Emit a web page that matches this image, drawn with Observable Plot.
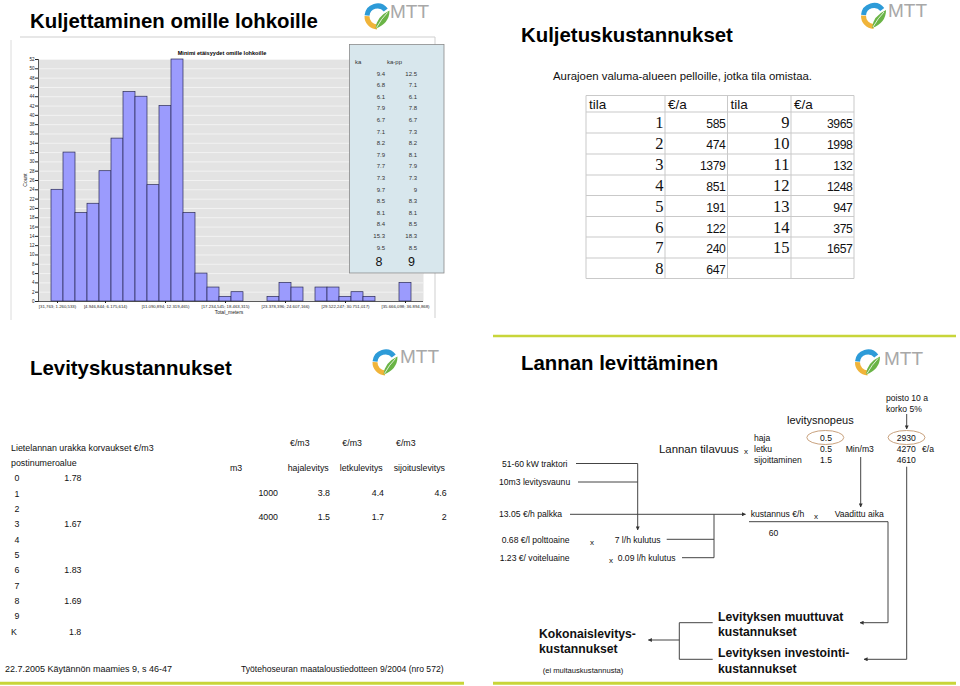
<!DOCTYPE html>
<html><head><meta charset="utf-8">
<script src="https://cdn.jsdelivr.net/npm/d3@7"></script>
<script src="https://cdn.jsdelivr.net/npm/@observablehq/plot@0.6"></script>
<style>
html,body{margin:0;padding:0;background:#fff;}
#page{position:relative;width:960px;height:686px;overflow:hidden;background:#fff;font-family:"Liberation Sans",Arial,sans-serif;}
#chart{position:absolute;left:0;top:40px;width:435px;height:281px;overflow:hidden;}
#overlay{position:absolute;left:0;top:0;}
</style></head>
<body><div id="page"><div id="chart"></div><svg id="overlay" width="960" height="686"></svg></div>
<script>
// ---------- data ----------
const binIndex = d3.range(1, 31);
const counts = [24,32,19,21,28,35,45,44,25,42,52,19,6,3,1,2,0,0,1,4,3,0,3,3,1,2,1,0,0,4];
const tickBins = [1,5,10,15,20,25,30];
const tickLabels = ["[31,763; 1.260,533)","[4.946,844; 6.175,614)","[11.090,894; 12.319,465)","[17.234,545; 18.463,315)","[23.378,396; 24.607,166)","[29.522,247; 30.751,017)","[35.666,098; 36.894,868)"];
const yTicks = d3.range(0, 53, 2);
const ka   = ["9.4","6.8","6.1","7.9","6.7","7.1","8.2","7.9","7.7","7.3","9.7","8.5","8.1","8.4","15.3","9.5"];
const kaPP = ["12.5","7.1","6.1","7.8","6.7","7.3","8.2","8.1","7.9","7.3","9","8.3","8.1","8.5","18.3","8.5"];
const kaSummary = ["8","9"];

const tilaLeft = [1,2,3,4,5,6,7,8];
const eurLeft = [585,474,1379,851,191,122,240,647];
const tilaRight = [9,10,11,12,13,14,15];
const eurRight = [3965,1998,132,1248,947,375,1657];

const postAreas = ["0","1","2","3","4","5","6","7","8","9","K"];
const postValues = ["1.78","","","1.67","","","1.83","","1.69","","1.8"];
const spreadMethods = ["hajalevitys","letkulevitys","sijoituslevitys"];
const volumes = ["1000","4000"];
const spreadCosts = [["3.8","4.4","4.6"],["1.5","1.7","2"]];

// ---------- histogram ----------
const data = binIndex.map((b, i) => ({bin: b, count: counts[i]}));
const labelOf = new Map(tickBins.map((b, i) => [b, tickLabels[i]]));
const chart = Plot.plot({
  width: 435, height: 281,
  marginLeft: 38, marginRight: 12, marginTop: 19, marginBottom: 20,
  style: {fontFamily: "Liberation Sans, Arial, sans-serif", background: "transparent", color: "#222"},
  x: {type: "band", domain: binIndex, padding: 0},
  y: {domain: [0, 52]},
  marks: [
    Plot.frame({fill: "#e3e3e3", stroke: null}),
    Plot.gridY(yTicks, {stroke: "#f6f6f6", strokeOpacity: 1, strokeWidth: 0.8}),
    Plot.barY(data, {x: "bin", y: "count", fill: "#9b9bfd", stroke: "#2a2a55", strokeWidth: 0.7}),
    Plot.ruleY([0], {stroke: "#333", strokeWidth: 0.8}),
    Plot.frame({anchor: "left", stroke: "#333", strokeWidth: 0.8}),
    Plot.axisY({ticks: yTicks, tickSize: 3, tickPadding: 1, fontSize: 4.6, label: null}),
    Plot.axisX({ticks: tickBins, tickFormat: d => labelOf.get(d), tickSize: 2, tickPadding: 1, fontSize: 4.3, label: null})
  ]
});
document.getElementById("chart").appendChild(chart);

// ---------- overlay ----------
const ns = "http://www.w3.org/2000/svg";
const ov = document.getElementById("overlay");
function el(tag, attrs, parent = ov) {
  const e = document.createElementNS(ns, tag);
  for (const k in attrs) e.setAttribute(k, attrs[k]);
  parent.appendChild(e);
  return e;
}
function T(x, y, s, o = {}) {
  const e = el("text", {x, y, "font-size": o.fs || 9, "font-family": o.ff || "Liberation Sans, Arial, sans-serif",
    "font-weight": o.fw || "normal", "text-anchor": o.a || "start", fill: o.fill || "#111"});
  if (o.ls) e.setAttribute("letter-spacing", o.ls);
  e.textContent = s;
  return e;
}
function L(d, o = {}) {
  const e = el("path", {d, fill: "none", stroke: o.stroke || "#444", "stroke-width": o.sw || 1});
  if (o.arrow) e.setAttribute("marker-end", "url(#arr)");
  return e;
}
const defs = el("defs", {});
const mk = el("marker", {id: "arr", viewBox: "0 0 10 10", refX: 9, refY: 5, markerWidth: 4, markerHeight: 4, orient: "auto-start-reverse", markerUnits: "userSpaceOnUse"}, defs);
el("path", {d: "M0,0L10,5L0,10z", fill: "#333"}, mk);

function arcPath(r, a0, a1) {
  const p = a => [r * Math.cos(a * Math.PI / 180), r * Math.sin(a * Math.PI / 180)];
  const [x0, y0] = p(a0), [x1, y1] = p(a1);
  const large = (a1 - a0) > 180 ? 1 : 0;
  return `M${x0},${y0}A${r},${r} 0 ${large} 1 ${x1},${y1}`;
}
function logo(cx, cy, tx, ty) {
  const g = el("g", {transform: `translate(${cx},${cy})`});
  el("path", {d: arcPath(10.5, 185, 322), fill: "none", stroke: "#2d9bd8", "stroke-width": 5}, g);
  el("path", {d: arcPath(10.5, 92, 182), fill: "none", stroke: "#f0b43a", "stroke-width": 5}, g);
  el("path", {d: "M-2,12 Q-1,0 12,-6 Q12,7 -2,12 Z", fill: "#6ab446"}, g);
  el("path", {d: "M-1,11 Q4,2 10,-4", fill: "none", stroke: "#fff", "stroke-width": 0.8}, g);
  T(tx, ty, "MTT", {fs: 19, fill: "#a8a8a8"});
}

// ===== Slide 1 : top-left =====
T(30, 28, "Kuljettaminen omille lohkoille", {fs: 20.4, fw: "bold", fill: "#000"});
logo(377.5, 16.5, 390, 17.5);
L("M20,37H435V318", {stroke: "#cfcfcf"});
L("M11,40V320", {stroke: "#dcdcdc"});
T(222, 55, "Minimi etäisyydet omille lohkoille", {fs: 5.6, fw: "bold", a: "middle", fill: "#000"});
const cg = el("g", {transform: "translate(27,180) rotate(-90)"});
const ct = el("text", {x: 0, y: 0, "font-size": 5, "text-anchor": "middle", "font-family": "Liberation Sans, Arial", fill: "#222"}, cg);
ct.textContent = "Count";
T(229, 314, "Total_meters", {fs: 5, a: "middle", fill: "#222"});
// ka / ka-pp box
el("rect", {x: 349.5, y: 44.5, width: 94.5, height: 228.5, fill: "#d8e7ed", stroke: "#8a8a8a", "stroke-width": 0.8});
T(355, 64, "ka", {fs: 6, fill: "#333"});
T(387, 64, "ka-pp", {fs: 6, fill: "#333"});
ka.forEach((v, i) => {
  T(385, 75.5 + i * 11.6, v, {fs: 6, a: "end", fill: "#333"});
  T(417, 75.5 + i * 11.6, kaPP[i], {fs: 6, a: "end", fill: "#333"});
});
T(379, 266, kaSummary[0], {fs: 12.5, a: "middle", fill: "#111"});
T(411.5, 266, kaSummary[1], {fs: 12.5, a: "middle", fill: "#111"});

// ===== Slide 2 : top-right =====
T(521, 42, "Kuljetuskustannukset", {fs: 20.4, fw: "bold", fill: "#000"});
logo(874, 16, 888, 16.5);
T(553, 80, "Aurajoen valuma-alueen pelloille, jotka tila omistaa.", {fs: 11.4, fill: "#111"});
const colX = [586, 665, 727.5, 791, 854];
const rowY = [95.5, 112, 133, 154, 175, 195.5, 216.5, 237, 258, 278.5];
colX.forEach(x => L(`M${x},${rowY[0]}V${rowY[rowY.length - 1]}`, {stroke: "#c9c9c9"}));
rowY.forEach(y => L(`M${colX[0]},${y}H${colX[4]}`, {stroke: "#c9c9c9"}));
["tila", "€/a", "tila", "€/a"].forEach((h, j) => T(colX[j] + 3, 109, h, {fs: 13.5, fill: "#111"}));
tilaLeft.forEach((t, i) => {
  const y = rowY[i + 1] + 16.3;
  T(663.5, y, String(t), {fs: 16.5, ff: "Liberation Serif, Times New Roman, serif", a: "end", fill: "#111"});
  T(725.5, y, String(eurLeft[i]), {fs: 12.2, a: "end", ls: -0.4, fill: "#111"});
});
tilaRight.forEach((t, i) => {
  const y = rowY[i + 1] + 16.3;
  T(789.5, y, String(t), {fs: 16.5, ff: "Liberation Serif, Times New Roman, serif", a: "end", fill: "#111"});
  T(852.5, y, String(eurRight[i]), {fs: 12.2, a: "end", ls: -0.4, fill: "#111"});
});
L("M493,336H956", {stroke: "#c8d53a", sw: 2.5});

// ===== Slide 3 : bottom-left =====
T(30, 375, "Levityskustannukset", {fs: 20.4, fw: "bold", fill: "#000"});
logo(385.5, 362.5, 400, 362.5);
T(11, 450.7, "Lietelannan urakka korvaukset €/m3", {fs: 8.9});
T(11, 466.3, "postinumeroalue", {fs: 8.9});
postAreas.forEach((p, i) => {
  const y = 481.3 + i * 15.34;
  if (p === "K") T(11, y, p, {fs: 8.8}); else T(17, y, p, {fs: 8.8, a: "middle"});
  if (postValues[i]) T(p === "K" ? 69 : 64.3, y, postValues[i], {fs: 8.8});
});
[290, 342.3, 396].forEach(x => T(x, 445.7, "€/m3", {fs: 8.8}));
T(230, 470.7, "m3", {fs: 8.8});
[287.7, 339.7, 393.7].forEach((x, j) => T(x, 470.7, spreadMethods[j], {fs: 8.8}));
volumes.forEach((v, i) => {
  const y = 495.7 + i * 24.6;
  T(278, y, v, {fs: 8.8, a: "end"});
  [330, 384, 446.7].forEach((x, j) => T(x, y, spreadCosts[i][j], {fs: 8.8, a: "end"}));
});
T(5, 672, "22.7.2005 Käytännön maamies 9, s 46-47", {fs: 9});
T(241, 672, "Työtehoseuran maataloustiedotteen 9/2004 (nro 572)", {fs: 8.6});
L("M0,683.3H464", {stroke: "#c8d53a", sw: 3});

// ===== Slide 4 : bottom-right =====
T(521, 370, "Lannan levittäminen", {fs: 20.4, fw: "bold", fill: "#000"});
logo(868, 362.5, 884, 364.5);
const s4 = 8.6;
T(886, 401, "poisto 10 a", {fs: s4});
T(886, 412, "korko 5%", {fs: s4});
T(787, 424, "levitysnopeus", {fs: 11});
T(659, 453, "Lannan tilavuus", {fs: 11.4});
T(744, 453.5, "x", {fs: 8});
T(754, 441, "haja", {fs: s4});
T(754, 452, "letku", {fs: s4});
T(754, 462.5, "sijoittaminen", {fs: s4});
T(820, 441, "0.5", {fs: s4});
T(820, 452, "0.5", {fs: s4});
T(820, 462.5, "1.5", {fs: s4});
T(845.7, 452, "Min/m3", {fs: s4});
T(896.7, 441, "2930", {fs: s4});
T(896.7, 452, "4270", {fs: s4});
T(922, 452, "€/a", {fs: s4});
T(896.7, 462.5, "4610", {fs: s4});
el("ellipse", {cx: 825.3, cy: 437.5, rx: 18.5, ry: 7, fill: "none", stroke: "#c9a27e", "stroke-width": 1});
el("ellipse", {cx: 906.5, cy: 437.5, rx: 18.5, ry: 7, fill: "none", stroke: "#c9a27e", "stroke-width": 1});
L("M906.7,414V429", {arrow: true});
T(502, 467, "51-60 kW traktori", {fs: s4});
T(499, 485, "10m3 levitysvaunu", {fs: s4});
T(499, 517.3, "13.05 €/h palkka", {fs: s4});
T(501.7, 543, "0.68 €/l polttoaine", {fs: s4});
T(590, 544.5, "x", {fs: 8});
T(614.7, 543, "7 l/h kulutus", {fs: s4});
T(499.7, 561, "1.23 €/ voiteluaine", {fs: s4});
T(609, 563, "x", {fs: 8});
T(617.7, 561, "0.09 l/h kulutus", {fs: s4});
T(750.7, 517.3, "kustannus €/h", {fs: s4});
T(814, 518.5, "x", {fs: 8});
T(834.7, 517.3, "Vaadittu aika", {fs: s4});
T(768.7, 536, "60", {fs: s4});
L("M576,463.5H637.7V530", {arrow: true});
L("M578,482H637.7");
L("M570,514.3H745.5", {arrow: true});
L("M666.7,539.3H714");
L("M682,557.7H714");
L("M714,514.3V557.7");
L("M749,521.7H888V622.7H860", {arrow: true});
L("M860.7,457V507", {arrow: true});
L("M906.7,466.7V659.3H864", {arrow: true});
L("M712.7,622.7H679.3V659.3H712.7");
L("M679.3,640H648.3", {arrow: true});
T(718, 620.5, "Levityksen muuttuvat", {fs: 12.2, fw: "bold", fill: "#111"});
T(718, 636, "kustannukset", {fs: 12.2, fw: "bold", fill: "#111"});
T(718, 657, "Levityksen investointi-", {fs: 12.2, fw: "bold", fill: "#111"});
T(718, 672.5, "kustannukset", {fs: 12.2, fw: "bold", fill: "#111"});
T(539, 637.5, "Kokonaislevitys-", {fs: 12.2, fw: "bold", fill: "#111"});
T(539, 653, "kustannukset", {fs: 12.2, fw: "bold", fill: "#111"});
T(542.7, 673, "(ei multauskustannusta)", {fs: 7.6});
L("M493,683.3H956", {stroke: "#c8d53a", sw: 3});
</script></body></html>
